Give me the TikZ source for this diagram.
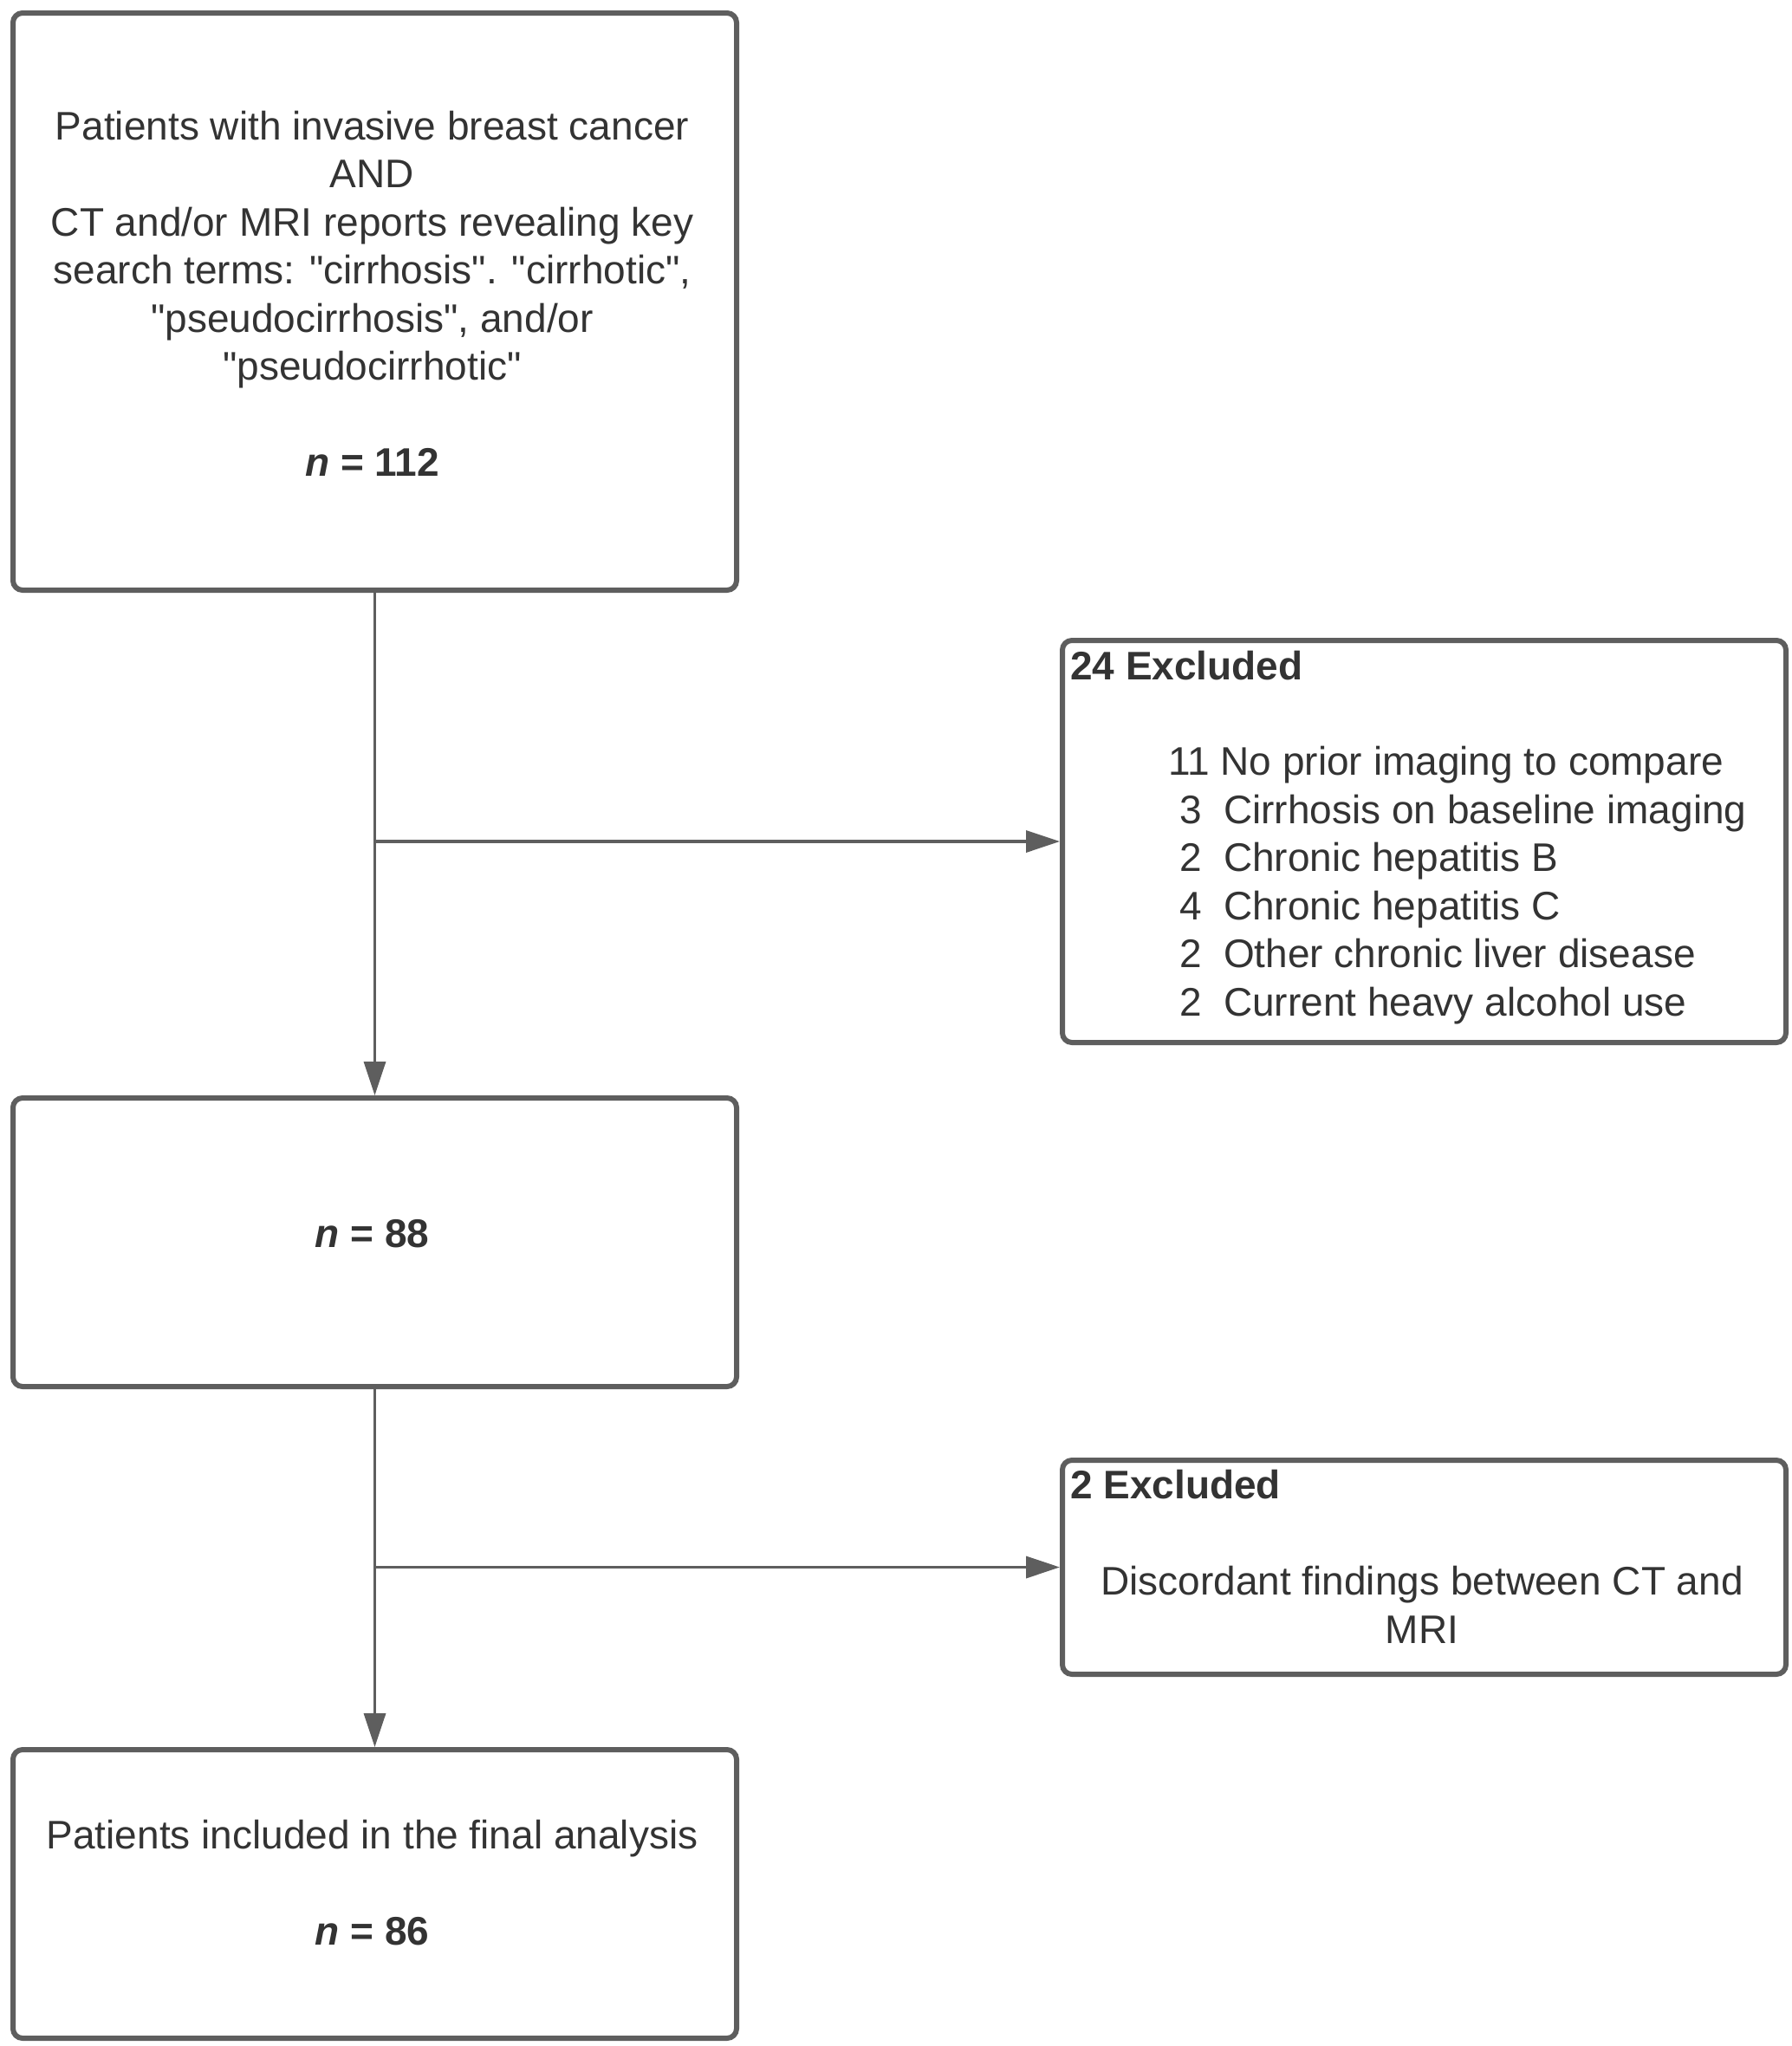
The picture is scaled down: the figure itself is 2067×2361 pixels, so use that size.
\documentclass[tikz,border=0pt]{standalone}
\usepackage{fontspec}
\setmainfont{Liberation Sans}
\usetikzlibrary{arrows.meta}
\definecolor{edgegray}{HTML}{5E5E5E}
\definecolor{txtgray}{HTML}{333333}
\newcommand{\dq}{\textquotedbl}
\begin{document}
\begin{tikzpicture}[x=1pt,y=-1pt,
  boxnode/.style={draw=edgegray, line width=6pt, rounded corners=11pt, rectangle, inner sep=0pt, anchor=north west, minimum width=835pt},
  txt/.style={text=txtgray, inner sep=0pt, font=\fontsize{46}{55.5}\selectfont},
  conn/.style={draw=edgegray, line width=3.5pt, -{Triangle[length=39pt,width=25pt]}}]
\useasboundingbox[fill=white] (0,0) rectangle (2067,2361);

% boxes
\node[boxnode, minimum height=666pt] (b1) at (12,12) {};
\node[boxnode, minimum height=464pt] (b2) at (1223,736) {};
\node[boxnode, minimum height=333pt] (b3) at (12,1264) {};
\node[boxnode, minimum height=247pt] (b4) at (1223,1682) {};
\node[boxnode, minimum height=333pt] (b5) at (12,2016) {};

% texts
\node[txt, align=center] (t1) at (429.5,339) {Patients with invasive breast cancer\\AND\\CT and/or MRI reports revealing key\\search terms: \dq cirrhosis\dq. \dq cirrhotic\dq,\\\dq pseudocirrhosis\dq, and/or\\\dq pseudocirrhotic\dq\\[55.5pt]\textbf{\textit{n} = 112}};
\node[txt, anchor=west] (t2h) at (1235,768) {\textbf{24 Excluded}};
\node[txt, anchor=north west, align=left] (t2) at (1348,861) {11\hspace{0.278em}No prior imaging to compare\\
\hspace*{0.278em}3\hspace{0.556em}Cirrhosis on baseline imaging\\
\hspace*{0.278em}2\hspace{0.556em}Chronic hepatitis B\\
\hspace*{0.278em}4\hspace{0.556em}Chronic hepatitis C\\
\hspace*{0.278em}2\hspace{0.556em}Other chronic liver disease\\
\hspace*{0.278em}2\hspace{0.556em}Current heavy alcohol use};
\node[txt] (t3) at (429.5,1424) {\textbf{\textit{n} = 88}};
\node[txt, anchor=west] (t4h) at (1235,1713) {\textbf{2 Excluded}};
\node[txt, align=center] (t4) at (1641,1852) {Discordant findings between CT and\\MRI};
\node[txt, align=center] (t5) at (429.5,2173) {Patients included in the final analysis\\[55.5pt]\textbf{\textit{n} = 86}};

% connectors
\coordinate (j1) at (b1.south |- 0,971);
\coordinate (j2) at (b1.south |- b4.west);
\draw[conn] (b1.south) -- (b3.north);
\draw[conn] (j1) -- (j1 -| b2.west);
\draw[conn] (b3.south) -- (b5.north);
\draw[conn] (j2) -- (b4.west);
\end{tikzpicture}
\end{document}
